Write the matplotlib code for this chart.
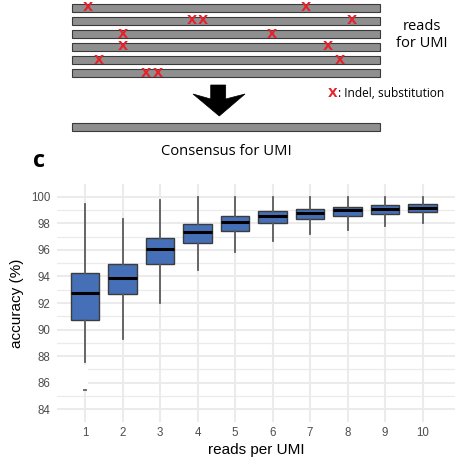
import matplotlib
matplotlib.use("Agg")
import matplotlib.pyplot as plt
from matplotlib.patches import Rectangle, Polygon
from matplotlib.ticker import MultipleLocator

# box statistics per number of reads (accuracy, %)
reads = [1, 2, 3, 4, 5, 6, 7, 8, 9, 10]
whislo = [87.54, 89.27, 91.98, 94.48, 95.84, 96.67, 97.17, 97.52, 97.77, 98.00]
q1 = [90.72, 92.68, 94.94, 96.54, 97.44, 97.99, 98.30, 98.55, 98.70, 98.83]
med = [92.78, 93.91, 96.07, 97.37, 98.10, 98.52, 98.80, 98.97, 99.07, 99.15]
q3 = [94.24, 94.91, 96.92, 97.95, 98.55, 98.92, 99.10, 99.25, 99.35, 99.43]
whishi = [99.45, 98.30, 99.75, 99.95, 99.95, 99.95, 99.95, 99.95, 99.95, 99.95]
outlier_x = [1]
outlier_y = [85.45]

# schematic: error positions (pixels) on each read bar
err_row = [0, 0, 1, 1, 1, 2, 2, 3, 3, 4, 4, 5, 5]
err_pos = [88, 306, 192, 203, 352, 123, 272, 123, 328, 99, 340, 146, 158]

W, H = 456, 457
fig = plt.figure(figsize=(W / 100, H / 100), dpi=100)

# ---- top schematic, drawn in pixel coordinates ----
top = fig.add_axes([0, 0, 1, 1])
top.set_xlim(0, W)
top.set_ylim(H, 0)
top.axis("off")

bar_x0, bar_x1, bar_h = 71.7, 380, 8
row_y = [3.5, 16.7, 30, 43, 56, 69.3]
for y in row_y:
    top.add_patch(Rectangle((bar_x0, y), bar_x1 - bar_x0, bar_h,
                            facecolor="#8f8f8f", edgecolor="#3a3a3a", lw=0.8))
top.add_patch(Rectangle((bar_x0, 123), bar_x1 - bar_x0, bar_h,
                        facecolor="#8f8f8f", edgecolor="#3a3a3a", lw=0.8))

for r, p in zip(err_row, err_pos):
    top.text(p, row_y[r] + bar_h / 2, "X", color="#e8202a", fontsize=9.5,
             fontweight="bold", ha="center", va="center",
             family=["Liberation Sans Narrow", "DejaVu Sans"])

top.add_patch(Polygon([(210.7, 85), (225.7, 85), (225.7, 99), (245, 94),
                       (219.3, 116), (193, 94), (210.7, 99)],
                      closed=True, facecolor="black", edgecolor="black", lw=0.5))

top.text(421.7, 35, "reads\nfor UMI", ha="center", va="center", fontsize=10.5,
         family="Open Sans", linespacing=1.25)
top.text(327.5, 93.5, "X", color="#e8202a", fontsize=9, fontweight="bold",
         ha="left", va="center", family=["Liberation Sans Narrow", "DejaVu Sans"])
top.text(338, 93.5, ": Indel, substitution", ha="left", va="center",
         fontsize=8.6, family="Open Sans")
top.text(226.7, 151.5, "Consensus for UMI", ha="center", va="center",
         fontsize=10.6, family="Open Sans")
top.text(33, 161, "c", ha="left", va="center", fontsize=17, fontweight="bold",
         family="Open Sans")

# ---- box plot panel ----
ax = fig.add_axes([57 / W, 1 - 421.7 / H, (W - 57) / W, (421.7 - 184) / H])
ax.set_facecolor("none")

stats = []
for i in range(len(reads)):
    fl = [y for x, y in zip(outlier_x, outlier_y) if x == reads[i]]
    stats.append(dict(whislo=whislo[i], q1=q1[i], med=med[i], q3=q3[i],
                      whishi=whishi[i], fliers=fl))

ax.bxp(stats, positions=reads, widths=0.75, patch_artist=True, showcaps=False,
       boxprops=dict(facecolor="#4570b7", edgecolor="#3c3c3c", linewidth=1.0),
       medianprops=dict(color="black", linewidth=2.2),
       whiskerprops=dict(color="#5a5a5a", linewidth=1.3),
       flierprops=dict(marker="_", markersize=2.5, markeredgecolor="#5a5a5a",
                       markeredgewidth=1.2),
       zorder=3)

# white patch covering part of the panel near the first box
ax.add_patch(Rectangle((0.2, 85.55), 0.87, 1.75, facecolor="white",
                       edgecolor="none", zorder=2))

ax.set_xlim(0.253, 10.893)
ax.set_ylim(83.07, 100.96)
ax.set_xticks(reads)
ax.set_xticklabels([str(r) for r in reads])
ax.set_yticks(range(84, 101, 2))
ax.yaxis.set_minor_locator(MultipleLocator(1))
ax.grid(True, which="major", color="#ebebeb", lw=1.5, zorder=0)
ax.grid(True, which="minor", axis="y", color="#ebebeb", lw=0.9, zorder=0)
ax.set_axisbelow(True)
for s in ax.spines.values():
    s.set_visible(False)
ax.tick_params(which="both", length=0, labelsize=8.3, labelcolor="#4d4d4d")
ax.tick_params(axis="y", pad=5)
ax.tick_params(axis="x", pad=4)
for lab in ax.get_xticklabels() + ax.get_yticklabels():
    lab.set_family("Liberation Sans")
ax.set_xlabel("reads per UMI", fontsize=11, family="Liberation Sans", labelpad=3)
ax.set_ylabel("accuracy (%)", fontsize=11, family="Liberation Sans", labelpad=5)

fig.savefig("out.png", dpi=100)
